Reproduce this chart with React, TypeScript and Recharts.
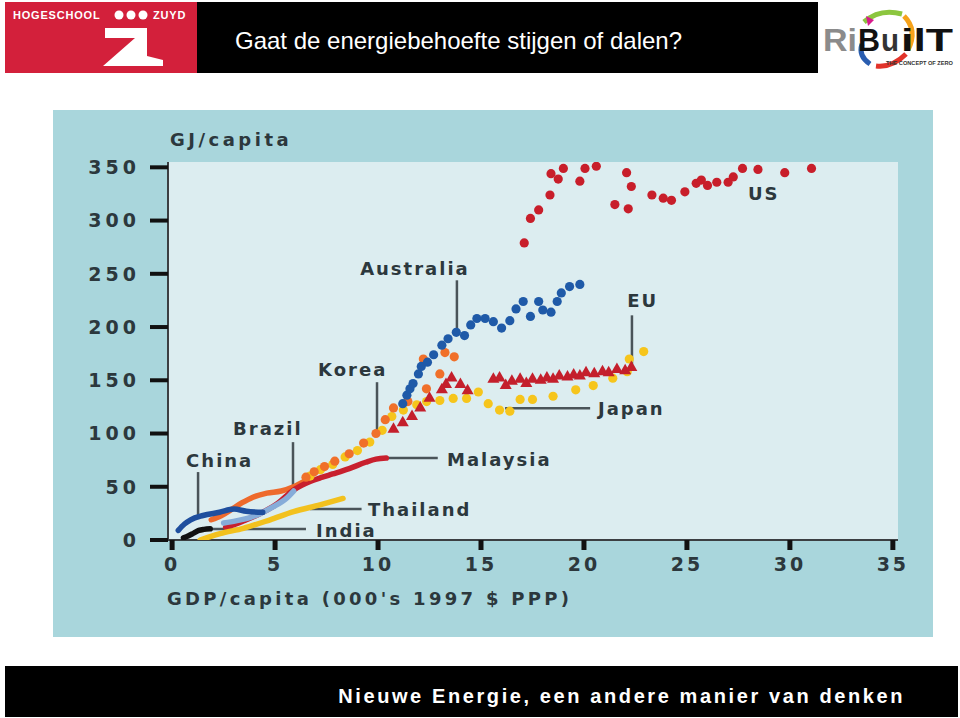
import { ScatterChart, Scatter, XAxis, YAxis, CartesianGrid, ReferenceLine, ReferenceDot } from "recharts";

// GDP per capita (000's 1997 $ PPP) and energy use (GJ/capita)
const usGdp = [17.1, 17.4, 17.8, 18.35, 18.4, 18.75, 19.0, 19.8, 20.05, 20.6, 21.5, 22.07, 22.15, 22.3, 23.3, 23.85, 24.25, 24.9, 25.45, 25.7, 26.0, 26.45, 27.0, 27.25, 27.7, 28.45, 29.75, 31.05];
const usEnergy = [279, 302, 310, 324, 344, 339, 349, 337, 349, 351, 315, 345, 311, 332, 324, 321, 319, 327, 335, 338, 333, 336, 336, 341, 349, 348, 345, 349];

const ausGdp = [11.2, 11.4, 11.55, 11.7, 11.96, 12.1, 12.4, 12.7, 13.1, 13.4, 13.8, 14.2, 14.5, 14.8, 15.2, 15.6, 16.0, 16.4, 16.7, 17.05, 17.4, 17.8, 18.0, 18.4, 18.7, 18.9, 19.3, 19.8];
const ausEnergy = [128, 136, 142, 147, 156, 163, 167, 174, 183, 189, 195, 192, 202, 208, 208, 205, 199, 206, 217, 224, 210, 224, 216, 214, 224, 232, 238, 240];

const koreaGdp = [6.5, 6.9, 7.4, 7.9, 8.6, 9.3, 9.9, 10.35, 10.75, 11.45, 12.35, 13.0, 12.2, 13.25, 13.7];
const koreaEnergy = [59, 64, 69, 74, 81, 91, 100, 113, 124, 130, 142, 156, 170, 176, 172];

const koreaEarlyGdp = [1.9, 2.4, 2.9, 3.4, 3.9, 4.6, 5.3, 5.9, 6.5];
const koreaEarlyEnergy = [19, 23, 29, 35, 40, 44, 46, 50, 56];

const euGdp = [10.75, 11.2, 11.65, 12.05, 12.5, 13.1, 13.3, 13.57, 14.0, 14.35, 15.6, 15.9, 16.2, 16.5, 16.9, 17.2, 17.5, 17.9, 18.2, 18.5, 18.8, 19.2, 19.5, 19.8, 20.1, 20.5, 20.9, 21.2, 21.6, 22.0, 22.3];
const euEnergy = [105, 111, 117, 125, 134, 142, 147, 153, 147, 141, 152, 153, 146, 150, 152, 148, 152, 151, 153, 152, 155, 154, 156, 155, 158, 157, 159, 158, 161, 160, 163];

const japanGdp = [6.7, 7.2, 7.8, 8.4, 9.0, 9.6, 10.2, 10.67, 11.23, 11.88, 12.36, 13.0, 13.65, 14.3, 14.87, 15.35, 15.9, 16.4, 16.9, 17.5, 18.5, 19.6, 20.45, 21.4, 22.1, 22.2, 22.9];
const japanEnergy = [60, 66, 71, 78, 84, 92, 103, 116, 122, 127, 130, 131, 133, 133, 139, 128, 122, 121, 132, 132, 135, 141, 145, 152, 158, 170, 177];

const chinaGdp = [0.3, 0.6, 0.9, 1.5, 2.3, 3.0, 3.6, 4.4];
const chinaEnergy = [9, 15, 19, 23, 26, 29, 27, 26];

const indiaGdp = [0.55, 0.8, 1.05, 1.3, 1.55, 1.85];
const indiaEnergy = [2, 4, 6.5, 9, 10, 10.5];

const thailandGdp = [1.36, 2.33, 3.46, 4.76, 5.9, 7.18, 8.3];
const thailandEnergy = [0, 6, 11, 19, 26.6, 33, 39];

const brazilGdp = [2.5, 3.1, 3.6, 4.3, 4.9, 5.6, 5.9];
const brazilEnergy = [16, 18, 20, 25, 31, 40, 46];

const malaysiaGdp = [2.6, 3.1, 3.6, 4.3, 5.1, 5.9, 6.7, 7.3, 7.8, 8.6, 9.4, 9.9, 10.4];
const malaysiaEnergy = [12, 15, 19, 25, 34, 47, 55, 59, 62, 67, 73, 76, 77];

const xTicks = [0, 5, 10, 15, 20, 25, 30, 35];
const yTicks = [0, 50, 100, 150, 200, 250, 300, 350];

// country labels, in data units
const labelNames = ["US", "Australia", "EU", "Korea", "Japan", "Brazil", "China", "Malaysia", "Thailand", "India"];
const labelGdp = [27.96, 9.13, 22.1, 7.09, 20.68, 2.96, 0.68, 13.35, 9.51, 6.99];
const labelEnergy = [319, 248.6, 218.6, 153.8, 117.3, 98.5, 68.5, 69.4, 22.5, 2.8];

// leader lines [x1, y1, x2, y2]
const leaders = [
  [13.83, 243.9, 13.83, 195],
  [22.33, 211, 22.33, 164],
  [9.95, 148.2, 9.95, 101],
  [16.17, 123.8, 20.3, 123.8],
  [5.87, 91.9, 5.87, 47],
  [1.26, 63.8, 1.26, 22.5],
  [10.39, 76.9, 12.9, 76.9],
  [6.7, 29.1, 9.2, 29.1],
  [1.84, 10.3, 6.5, 10.3],
];

const zip = (xs: number[], ys: number[]) => xs.map((x, i) => ({ x, y: ys[i] }));

const TEXT = "#2c383d";
const FONT = "'DejaVu Sans', sans-serif";

const dot = (color: string, r = 4.6) => (p: any) => <circle cx={p.cx} cy={p.cy} r={r} fill={color} />;
const triangle = (color: string) => (p: any) => (
  <polygon points={`${p.cx},${p.cy - 6} ${p.cx + 6},${p.cy + 4.5} ${p.cx - 6},${p.cy + 4.5}`} fill={color} />
);
const none = () => <g />;

function lineSeries(name: string, xs: number[], ys: number[], color: string) {
  return (
    <Scatter
      key={name}
      name={name}
      data={zip(xs, ys)}
      shape={none}
      line={{ stroke: color, strokeWidth: 5.5, strokeLinecap: "round", strokeLinejoin: "round" }}
      lineJointType="monotoneX"
      isAnimationActive={false}
    />
  );
}

function ZuydLogo() {
  return (
    <svg width={192} height={71} style={{ position: "absolute", left: 5, top: 2 }}>
      <rect width={192} height={71} fill="#d3203b" />
      <text x={8} y={17} fill="#fff" fontFamily="'Liberation Sans', Arial" fontWeight={700} fontSize={11} letterSpacing={0.8}>
        HOGESCHOOL
      </text>
      <circle cx={114} cy={13} r={4.5} fill="#fff" />
      <circle cx={126} cy={13} r={4.5} fill="#fff" />
      <circle cx={138} cy={13} r={4.5} fill="#fff" />
      <text x={148} y={17} fill="#fff" fontFamily="'Liberation Sans', Arial" fontWeight={700} fontSize={11} letterSpacing={0.8}>
        ZUYD
      </text>
      <polygon points="100,26 142,26 142,54 158,58 158,64 98,64 130,36 100,36" fill="#fff" />
    </svg>
  );
}

function RibuiltLogo() {
  return (
    <svg width={140} height={75} style={{ position: "absolute", left: 818, top: 0 }}>
      <rect width={140} height={75} fill="#fff" />
      <path d="M 46 22 Q 62 8 84 14" stroke="#8cc63f" strokeWidth={5} fill="none" />
      <path d="M 86 16 Q 100 30 90 50" stroke="#f6a21a" strokeWidth={5} fill="none" />
      <path d="M 88 54 Q 74 68 58 66" stroke="#e2332a" strokeWidth={5} fill="none" />
      <path d="M 52 64 Q 40 56 44 44" stroke="#2a5db0" strokeWidth={5} fill="none" />
      <polygon points="48,16 56,20 50,26" fill="#d81b8c" />
      <text x={5} y={51} fill="#8b8b8b" fontFamily="'Liberation Sans', Arial" fontWeight={700} fontSize={31} textLength={34} lengthAdjust="spacingAndGlyphs">
        Ri
      </text>
      <text x={40} y={51} fill="#111" fontFamily="'Liberation Sans', Arial" fontWeight={700} fontSize={31} textLength={22} lengthAdjust="spacingAndGlyphs">
        B
      </text>
      <text x={63} y={51} fill="#333" fontFamily="'Liberation Sans', Arial" fontWeight={700} fontSize={31} textLength={18} lengthAdjust="spacingAndGlyphs">
        u
      </text>
      <text x={83} y={51} fill="#111" fontFamily="'Liberation Sans', Arial" fontWeight={700} fontSize={31} textLength={52} lengthAdjust="spacingAndGlyphs">
        ilT
      </text>
      <text x={68} y={65} fill="#333" fontFamily="'Liberation Sans', Arial" fontWeight={700} fontSize={6} textLength={67} lengthAdjust="spacingAndGlyphs">
        THE CONCEPT OF ZERO
      </text>
    </svg>
  );
}

export default function App() {
  return (
    <div style={{ position: "absolute", left: 0, top: 0, width: 960, height: 718, background: "#fff", overflow: "hidden" }}>
      <ZuydLogo />
      <div style={{ position: "absolute", left: 197, top: 2, width: 621, height: 71, background: "#000" }} />
      <div
        style={{
          position: "absolute",
          left: 235,
          top: 27,
          color: "#fff",
          fontFamily: "'Liberation Sans', Arial, sans-serif",
          fontSize: 24,
          lineHeight: "28px",
          whiteSpace: "nowrap",
        }}
      >
        Gaat de energiebehoefte stijgen of dalen?
      </div>
      <RibuiltLogo />

      <div style={{ position: "absolute", left: 53, top: 110, width: 880, height: 527, background: "#a9d6dc" }}>
        <ScatterChart width={880} height={527} margin={{ top: 52, right: 35, bottom: 0, left: 0 }}>
          <CartesianGrid horizontal={false} vertical={false} fill="#dcedf0" stroke="none" />
          <XAxis
            type="number"
            dataKey="x"
            domain={[-0.2, 35.25]}
            ticks={xTicks}
            allowDataOverflow
            height={97}
            axisLine={{ stroke: "#3b3f42", strokeWidth: 2 }}
            tickLine={{ stroke: "#111", strokeWidth: 5 }}
            tickSize={10}
            tickMargin={8}
            tick={{ fill: TEXT, fontSize: 19, fontWeight: 700, fontFamily: FONT, letterSpacing: 3 }}
          />
          <YAxis
            type="number"
            dataKey="y"
            domain={[0, 355]}
            ticks={yTicks}
            allowDataOverflow
            width={115}
            axisLine={{ stroke: "#3b3f42", strokeWidth: 2 }}
            tickLine={{ stroke: "#111", strokeWidth: 4 }}
            tickSize={18}
            tickMargin={10}
            tick={{ fill: TEXT, fontSize: 19, fontWeight: 700, fontFamily: FONT, letterSpacing: 4 }}
          />

          {leaders.map((l, i) => (
            <ReferenceLine
              key={`leader-${i}`}
              segment={[{ x: l[0], y: l[1] }, { x: l[2], y: l[3] }]}
              stroke="#4a5459"
              strokeWidth={2.5}
            />
          ))}

          {lineSeries("Korea early", koreaEarlyGdp, koreaEarlyEnergy, "#ee6a2c")}
          {lineSeries("Malaysia", malaysiaGdp, malaysiaEnergy, "#c8202e")}
          {lineSeries("Brazil", brazilGdp, brazilEnergy, "#86acd9")}
          {lineSeries("Thailand", thailandGdp, thailandEnergy, "#f2c11e")}
          {lineSeries("China", chinaGdp, chinaEnergy, "#1f4f9e")}
          {lineSeries("India", indiaGdp, indiaEnergy, "#111111")}

          <Scatter name="Japan" data={zip(japanGdp, japanEnergy)} shape={dot("#f6c51c")} isAnimationActive={false} />
          <Scatter name="EU" data={zip(euGdp, euEnergy)} shape={triangle("#c41f2c")} isAnimationActive={false} />
          <Scatter name="Korea" data={zip(koreaGdp, koreaEnergy)} shape={dot("#f0702a")} isAnimationActive={false} />
          <Scatter name="Australia" data={zip(ausGdp, ausEnergy)} shape={dot("#1f5aa8")} isAnimationActive={false} />
          <Scatter name="US" data={zip(usGdp, usEnergy)} shape={dot("#c81e2a")} isAnimationActive={false} />

          {labelNames.map((n, i) => (
            <ReferenceDot
              key={n}
              x={labelGdp[i]}
              y={labelEnergy[i]}
              r={0}
              ifOverflow="visible"
              shape={(p: any) => (
                <text x={p.cx} y={p.cy} fill={TEXT} fontFamily={FONT} fontWeight={700} fontSize={18} letterSpacing={2}>
                  {n}
                </text>
              )}
            />
          ))}
        </ScatterChart>
        <div
          style={{
            position: "absolute",
            left: 117,
            top: 19,
            color: TEXT,
            fontFamily: FONT,
            fontWeight: 700,
            fontSize: 18,
            letterSpacing: 3.5,
            whiteSpace: "nowrap",
          }}
        >
          GJ/capita
        </div>
        <div
          style={{
            position: "absolute",
            left: 114,
            top: 478,
            color: TEXT,
            fontFamily: FONT,
            fontWeight: 700,
            fontSize: 18,
            letterSpacing: 3.3,
            whiteSpace: "nowrap",
          }}
        >
          GDP/capita (000's 1997 $ PPP)
        </div>
      </div>

      <div style={{ position: "absolute", left: 5, top: 666, width: 953, height: 51, background: "#000" }} />
      <div
        style={{
          position: "absolute",
          right: 55,
          top: 685,
          color: "#fff",
          fontFamily: "'Liberation Sans', Arial, sans-serif",
          fontWeight: 700,
          fontSize: 20,
          letterSpacing: 2.6,
          whiteSpace: "nowrap",
        }}
      >
        Nieuwe Energie, een andere manier van denken
      </div>
    </div>
  );
}
